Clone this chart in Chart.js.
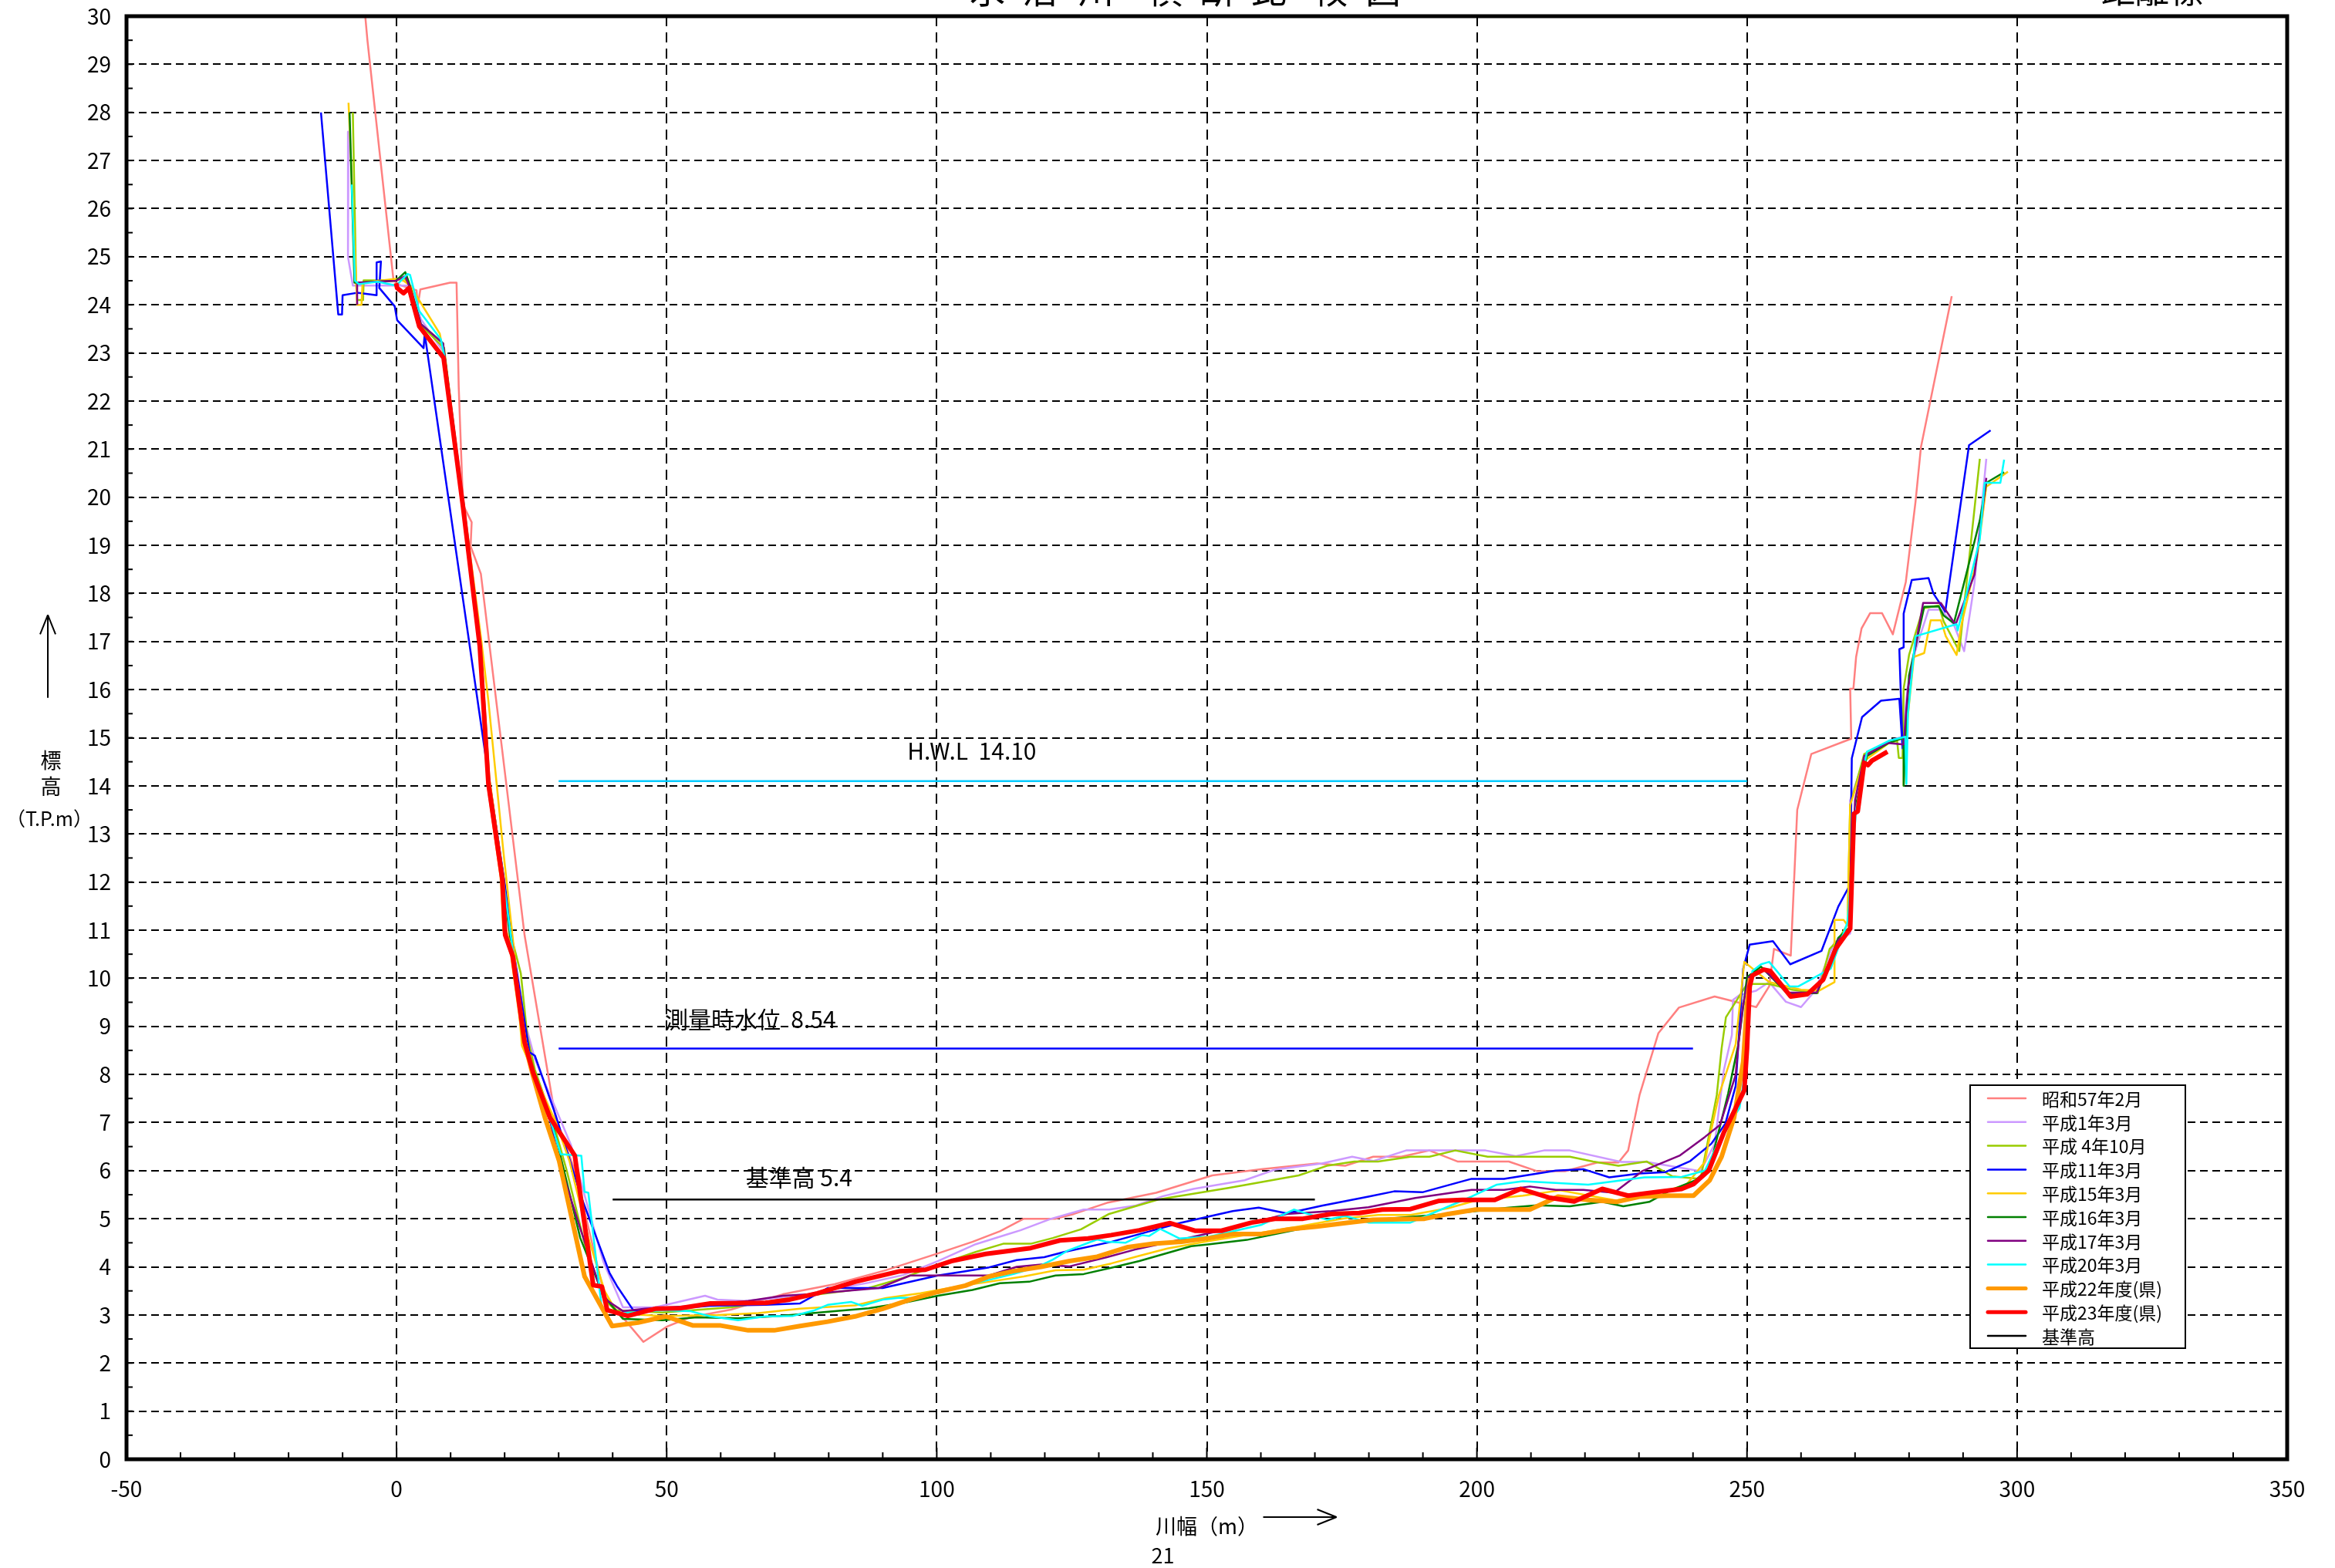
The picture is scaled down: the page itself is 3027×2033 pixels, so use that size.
<!DOCTYPE html>
<html lang="ja">
<head>
<meta charset="utf-8">
<title>横断比較図</title>
<script src="https://cdn.jsdelivr.net/npm/chart.js@4/dist/chart.umd.min.js"></script>
<style>
  html, body { margin: 0; padding: 0; background: #fff; }
  #wrap { width: 3027px; height: 2033px; }
</style>
</head>
<body>
<div id="wrap"><canvas id="myChart" width="3027" height="2033"></canvas></div>
<script>
// ---- survey lines, [川幅 m, 標高 T.P.m] ----
var s57_2 = [[-5.8,30.0],[-5.4,29.5],[-0.6,24.54],[0.1,24.43],[3.7,24.3],[3.9,23.97],[4.4,24.32],[9.9,24.46],[11.1,24.46],[11.5,22.3],[12.3,19.84],[13.9,19.48],[13.7,18.98],[15.6,18.41],[23.7,10.89],[29.4,7.1],[33.0,6.0],[38.5,3.4],[45.7,2.44],[50.1,2.76],[54.3,2.95],[61.9,3.11],[71.5,3.43],[81.1,3.64],[90.6,3.93],[100.2,4.28],[106.6,4.52],[111.7,4.74],[116.1,5.0],[121.9,5.0],[125.4,5.1],[131.5,5.33],[140.6,5.54],[151,5.9],[160,6.03],[170.4,6.15],[175.6,6.1],[180.8,6.29],[186,6.29],[191.2,6.42],[196.4,6.19],[205.9,6.19],[211.1,5.99],[216.3,5.99],[222.3,6.17],[226.2,6.17],[228,6.42],[230.1,7.57],[233.6,8.86],[237.4,9.39],[244,9.62],[251.7,9.4],[254.1,9.83],[255,10.61],[258.1,10.47],[259.3,13.5],[261.9,14.66],[269.3,14.98],[269.1,16.02],[269.7,16.02],[270.2,16.68],[271.2,17.27],[272.8,17.59],[275,17.59],[277,17.15],[279.4,18.24],[281.2,19.91],[282.2,21.04],[287.9,24.18]];

var h1_3 = [[-8.9,27.6],[-9.0,25.0],[-8.1,24.4],[-3.5,24.4],[2.7,24.4],[4.5,23.7],[8.8,23.0],[12.4,19.9],[15.5,17.0],[17.1,14.2],[19.8,12.1],[21.6,10.6],[23.9,9.03],[25.6,8.32],[32.3,6.53],[35.5,5.2],[38.3,4.1],[41.9,3.16],[47.9,3.16],[57.1,3.4],[59.4,3.32],[64.5,3.29],[74.7,3.4],[79.8,3.51],[87.4,3.67],[93.8,3.83],[100.2,4.12],[107.2,4.47],[112.9,4.67],[115.5,4.76],[121.2,5.0],[127.2,5.19],[131.9,5.19],[136.7,5.27],[141.9,5.47],[147.5,5.62],[157,5.8],[162.6,6.02],[171.3,6.15],[176.9,6.29],[180.8,6.2],[186.9,6.42],[201.6,6.42],[207.2,6.3],[212.4,6.42],[217.2,6.42],[226.7,6.18],[231.4,6.18],[241.4,5.99],[244,6.55],[245.7,8.08],[247.2,8.82],[247.4,9.55],[248.6,9.65],[251.7,9.74],[254.1,9.92],[257.2,9.51],[260,9.4],[262.6,9.74],[266.2,10.75],[269.1,10.93],[269.1,13.7],[271.7,14.57],[276.4,14.94],[278.8,15.02],[279.8,16.1],[280.9,16.72],[283.6,17.66],[285.9,17.66],[288.3,17.35],[290.2,16.8],[292.1,18.2],[294.3,20.8]];

var h4_10 = [[-8.1,28.0],[-7.5,24.5],[-7.3,24.1],[-6.2,24.1],[-6.1,24.51],[-0.1,24.51],[1.5,24.55],[2.5,24.4],[4.3,23.6],[8.8,23.1],[12.4,19.8],[15.6,16.9],[17.2,14.1],[19.8,12.1],[21.4,10.8],[23.0,10.1],[24.2,8.8],[25.6,8.1],[29.0,7.0],[31.5,6.0],[35.0,4.4],[38.6,3.3],[40.5,3.1],[49.2,3.05],[61.9,3.16],[74.0,3.37],[87.4,3.56],[93.8,3.77],[100.2,4.04],[107.2,4.31],[112.3,4.48],[117.4,4.48],[121.5,4.6],[126.7,4.78],[131.9,5.1],[141,5.4],[154,5.64],[167,5.9],[172.2,6.1],[177.3,6.19],[181.7,6.19],[187.7,6.29],[191.2,6.29],[196,6.42],[202,6.29],[217.2,6.29],[221.5,6.19],[226.2,6.1],[231.4,6.19],[236.2,5.88],[241.4,5.83],[244.4,7.57],[245.3,8.54],[246.1,9.19],[250,9.88],[254.1,9.88],[258.4,9.76],[263.1,9.69],[265.3,10.61],[266.9,10.8],[268.6,11.12],[269.1,13.6],[271.7,14.66],[276.4,14.9],[277.8,14.93],[278.1,14.58],[278.8,14.58],[279,16.02],[280,16.72],[282.6,17.69],[285.5,17.75],[286.4,17.42],[289.3,16.8],[293.1,20.8]];

var h11_3 = [[-14.0,28.0],[-10.8,23.8],[-10.1,23.8],[-10.0,24.2],[-7.3,24.25],[-3.7,24.2],[-3.7,24.88],[-2.9,24.9],[-3.2,24.35],[-0.35,23.97],[0.1,23.68],[5.0,23.1],[5.2,23.4],[16.3,14.76],[20.1,11.9],[21.8,10.46],[24.6,8.46],[25.6,8.39],[29.4,7.17],[34.2,5.45],[39.4,3.88],[40.8,3.6],[43.8,3.1],[47.9,3.1],[58.1,3.19],[68.3,3.21],[74.7,3.24],[79.8,3.56],[90,3.56],[100.2,3.82],[105.3,3.91],[109.7,3.99],[114.8,4.14],[119.9,4.2],[123.6,4.31],[132.3,4.52],[145.3,4.92],[154.8,5.16],[159.6,5.23],[164.8,5.11],[171.3,5.27],[179.9,5.46],[184.7,5.57],[189.9,5.55],[199,5.83],[205,5.83],[214.6,6.0],[219.7,6.03],[224.5,5.86],[230.1,5.94],[234.9,5.97],[239.5,6.2],[243.4,6.56],[246,6.98],[247.9,7.76],[249.3,10.2],[250.5,10.7],[254.8,10.77],[258,10.29],[263.8,10.57],[266.9,11.49],[269.1,11.95],[269.4,14.57],[271.3,15.43],[274.8,15.77],[278.2,15.81],[278.8,14.78],[278.2,16.84],[279,16.88],[279,17.58],[280.5,18.28],[283.6,18.32],[284.5,18.0],[286.7,17.62],[291.1,21.08],[295.1,21.39]];

var h15_3 = [[-8.9,28.2],[-7.3,24.0],[-6.5,24.0],[-6.3,24.46],[-0.1,24.54],[1.3,24.5],[2.5,24.4],[8.0,23.4],[8.7,22.96],[12.6,19.7],[15.6,17.1],[17.0,15.76],[19.8,12.6],[21.8,10.53],[23.2,8.6],[25.5,8.0],[29.5,7.0],[32,6.2],[35.5,4.6],[38.5,3.5],[40.9,3.03],[49.2,2.98],[59.4,3.0],[67.0,3.04],[74.7,3.13],[84.9,3.2],[90.6,3.35],[97,3.45],[105.3,3.62],[109.7,3.69],[116.1,3.8],[122,3.93],[127.2,3.94],[132.3,4.07],[137.5,4.23],[142.7,4.38],[149.6,4.52],[158.3,4.68],[167,4.84],[175.6,5.01],[181.7,5.08],[187.7,5.08],[194.7,5.22],[199.8,5.38],[208.5,5.48],[215.4,5.59],[225.8,5.38],[234.5,5.56],[238.8,5.71],[242.2,6.18],[243.1,6.7],[244.8,7.57],[247.9,8.63],[249.5,10.34],[254.1,9.92],[260,9.76],[263.3,9.74],[266.2,9.92],[266.2,11.21],[267.9,11.21],[268.6,11.1],[269.1,13.6],[271.7,14.52],[276.4,14.9],[279,15.0],[279,14.0],[279.3,14.93],[280.9,16.68],[282.8,16.76],[284,17.44],[285.9,17.44],[286.8,17.11],[288.8,16.72],[289.7,17.35],[292.6,18.74],[294.3,20.22],[298.3,20.53]];

var h16_3 = [[-8.7,28.0],[-7.8,24.46],[-0.1,24.5],[1.6,24.68],[2.3,24.46],[4.5,23.6],[8.6,23.2],[12.4,19.8],[15.5,16.9],[17.1,14.1],[19.7,12.0],[21.3,10.6],[23.8,8.7],[25.4,8.0],[28.8,7.0],[31,6.0],[34,4.6],[38.3,3.4],[41.9,2.92],[49.2,2.89],[55.6,2.95],[63.2,2.93],[70.9,2.98],[81.1,3.08],[87.4,3.14],[93.8,3.25],[100.2,3.4],[106.6,3.52],[111.7,3.66],[117.1,3.69],[122,3.82],[127.2,3.85],[132.3,3.98],[137.5,4.12],[147.1,4.43],[150.5,4.47],[157.4,4.56],[167,4.78],[174.8,4.9],[184.3,5.01],[194.7,5.1],[205.9,5.23],[211.1,5.28],[217.2,5.26],[223.2,5.35],[227.1,5.26],[231.9,5.35],[235.8,5.59],[240.5,5.8],[243.1,6.07],[246.5,7.6],[248.4,8.63],[250,10.02],[252.6,10.24],[257.4,9.69],[262.9,9.69],[264.5,10.1],[266.9,10.84],[269.1,11.07],[269.8,13.42],[272.2,14.62],[276.2,14.89],[279,15.0],[279,14.0],[279.3,14.9],[280,16.3],[282.8,17.72],[285.5,17.73],[286.4,17.54],[288.3,17.38],[293.1,19.52],[294.3,20.3],[297.6,20.52]];

var h17_3 = [[-7.3,24.0],[-7.3,24.46],[-0.1,24.5],[1.6,24.6],[2.3,24.4],[4.5,23.6],[8.6,23.2],[12.5,19.7],[15.5,16.9],[17.1,14.1],[19.7,12.0],[21.4,10.7],[23.8,8.7],[25.4,8.0],[28.5,7.0],[30.1,6.18],[34,4.8],[38.3,3.35],[41.9,3.08],[46.0,3.13],[55.6,3.19],[65.1,3.29],[71.5,3.4],[76.6,3.43],[81.1,3.48],[89.3,3.56],[95.1,3.82],[109.7,3.82],[114.8,4.0],[119.4,4.05],[124.6,4.01],[131.5,4.2],[136.7,4.36],[145.3,4.57],[154,4.79],[164.8,5.1],[173,5.16],[179.9,5.24],[188.6,5.43],[199,5.6],[205,5.6],[209.8,5.67],[214.6,5.6],[219.7,5.6],[225.4,5.54],[230.6,5.99],[237.5,6.31],[242.2,6.7],[245,6.95],[247.9,7.99],[248.4,8.63],[249.3,9.46],[250.3,10.02],[253,10.2],[257.5,9.7],[262.9,9.7],[264.5,10.1],[266.9,10.8],[269.1,10.98],[270,13.7],[271.7,14.62],[276,14.89],[279,14.86],[279.8,16.02],[282.6,17.8],[285.9,17.8],[288.6,17.35],[292.1,18.39],[293.1,19.25],[294.3,20.4]];

var h20_3 = [[-8.3,26.5],[-7.7,24.5],[-7.0,24.43],[-3.5,24.48],[-0.1,24.4],[2.0,24.64],[2.5,24.62],[4.2,23.87],[8.2,23.28],[8.9,22.9],[12.5,19.8],[15.6,16.9],[17.1,14.1],[19.8,12.0],[21.5,10.6],[23.9,8.7],[25.5,8.0],[28.6,7.0],[30.4,6.34],[34.2,6.31],[34.8,5.56],[35.5,5.54],[38.0,3.13],[41.2,3.03],[49.2,3.1],[54.3,3.08],[58.1,2.97],[63.2,2.89],[68.3,2.97],[73.4,2.98],[77.2,3.09],[79.8,3.21],[84.2,3.27],[86.2,3.19],[90,3.32],[93.2,3.36],[95.7,3.35],[100.2,3.5],[105.3,3.62],[109.7,3.73],[114.2,3.85],[118.7,4.0],[121.5,4.15],[124.1,4.33],[129.7,4.57],[131.5,4.52],[134.9,4.5],[138,4.66],[139.3,4.64],[141.4,4.79],[144.9,4.59],[150.5,4.63],[160,4.87],[166.1,5.19],[172.2,4.98],[175.6,5.06],[179.9,4.92],[187.7,4.92],[199,5.46],[203.7,5.71],[208.5,5.78],[220.6,5.71],[231,5.86],[237.9,5.87],[242.2,6.0],[245.6,6.79],[248.6,7.3],[249.3,7.8],[250,9.46],[251,10.15],[252.6,10.29],[254.1,10.34],[257.9,9.83],[259.5,9.83],[265.5,10.2],[268.6,11.16],[270.2,13.51],[272.2,14.71],[276.4,14.94],[279.3,15.02],[279.5,14.04],[279.8,15.5],[281.2,17.11],[288.8,17.36],[289,17.23],[293.1,19.13],[294,20.3],[296.9,20.3],[297.6,20.78]];

var h22 = [[17.0,14.1],[19.5,12.1],[20.0,11.0],[21.4,10.5],[23.6,8.7],[25.2,8.0],[27.5,7.09],[30.1,6.2],[34.8,3.8],[39.9,2.77],[44.7,2.84],[49.8,2.97],[54.9,2.78],[60,2.78],[65.1,2.68],[69.9,2.68],[74.7,2.77],[79.8,2.86],[84.9,2.97],[90,3.13],[95.1,3.32],[100.2,3.48],[105.3,3.61],[109.7,3.8],[114.2,3.91],[119.3,4.0],[124.6,4.12],[129.7,4.21],[135.4,4.41],[140.1,4.48],[145.3,4.52],[150.5,4.6],[154.8,4.68],[160,4.68],[165.2,4.78],[170.4,4.84],[175.6,4.91],[180.8,4.98],[186,4.99],[190.3,5.0],[194.7,5.1],[199.8,5.19],[209.8,5.19],[215,5.46],[220.6,5.39],[225.8,5.35],[230.1,5.46],[235.3,5.48],[240.1,5.48],[243.1,5.8],[245.3,6.29],[247.6,7.1],[249.3,8.26],[250,9.46],[250.6,10.0]];

var h23 = [[-0.1,24.45],[0.1,24.35],[1.3,24.24],[2.3,24.35],[4.2,23.55],[8.7,22.9],[9.4,22.3],[12.3,19.8],[15.4,16.9],[17.0,14.04],[19.6,12.04],[20.1,10.9],[21.5,10.46],[23.7,8.67],[25.3,8.03],[28.4,7.1],[33.0,6.31],[36.4,3.62],[38.0,3.59],[39.0,3.1],[42.8,2.98],[47.9,3.13],[52.4,3.14],[58.1,3.24],[68.3,3.25],[72.8,3.32],[77.9,3.45],[84.9,3.69],[93.2,3.91],[97.9,3.94],[102.7,4.12],[109.1,4.27],[117.4,4.39],[122.8,4.55],[128,4.59],[132.3,4.66],[137.5,4.76],[143.2,4.91],[147.9,4.75],[152.7,4.75],[158.3,4.92],[162.6,5.0],[167.8,5.0],[173,5.1],[178.2,5.12],[182.5,5.19],[187.7,5.2],[192.9,5.37],[197.3,5.39],[203.3,5.39],[208.1,5.62],[213.3,5.44],[218,5.36],[223.2,5.62],[228,5.48],[232.7,5.55],[237.9,5.62],[240.1,5.72],[242.9,6.0],[245.7,6.79],[249.5,7.67],[250,8.54],[250.5,9.83],[251,10.06],[253.1,10.18],[254.3,10.15],[258.1,9.62],[261.2,9.67],[264.1,9.97],[266.4,10.61],[269.1,11.03],[269.8,13.42],[270.5,13.47],[271.7,14.48],[272.4,14.43],[273.1,14.52],[276,14.71]];

// reference levels
var hwlLine = [[30,14.10],[250,14.10]];
var surveyLine = [[30,8.54],[240,8.54]];
var kijunLine = [[40,5.4],[170,5.4]];

var seriesLabels = ['昭和57年2月','平成1年3月','平成 4年10月','平成11年3月','平成15年3月','平成16年3月','平成17年3月','平成20年3月','平成22年度(県)','平成23年度(県)'];
var kijunLabel = '基準高';

// ticks
var xMin = -50, xMax = 350, xStep = 50;
var yMin = 0, yMax = 30, yStep = 1;

// ----------------------------------------------------------------------------------
function toXY(arr) { return arr.map(function (p) { return { x: p[0], y: p[1] }; }); }

var FONT = "'Noto Sans CJK JP', 'Noto Sans', sans-serif";
Chart.defaults.font.family = FONT;
Chart.defaults.color = '#000';

function line(ds, label, color, width, order) {
  return {
    label: label, data: toXY(ds), borderColor: color, backgroundColor: color,
    borderWidth: width, showLine: true, pointRadius: 0, pointHoverRadius: 0,
    fill: false, tension: 0, order: order, borderJoinStyle: 'round'
  };
}

var datasets = [
  line(s57_2, seriesLabels[0], '#FF8080', 2.5, 10),
  line(h1_3,  seriesLabels[1], '#CC99FF', 2.5, 9),
  line(h4_10, seriesLabels[2], '#99CC00', 2.5, 8),
  line(h11_3, seriesLabels[3], '#0000FF', 2.5, 7),
  line(h15_3, seriesLabels[4], '#FFCC00', 2.5, 6),
  line(h16_3, seriesLabels[5], '#008000', 2.5, 5),
  line(h17_3, seriesLabels[6], '#800080', 2.5, 4),
  line(h20_3, seriesLabels[7], '#00FFFF', 2.5, 3),
  line(h22,   seriesLabels[8], '#FF9900', 6, 2),
  line(h23,   seriesLabels[9], '#FF0000', 6, 1),
  line(kijunLine, kijunLabel, '#000000', 2.5, 0),
  line(hwlLine, 'H.W.L', '#00CCFF', 2.5, 0),
  line(surveyLine, '測量時水位', '#0000FF', 2.5, 0)
];

function stroke(ctx, x1, y1, x2, y2) {
  ctx.beginPath(); ctx.moveTo(x1, y1); ctx.lineTo(x2, y2); ctx.stroke();
}

var decor = {
  id: 'decor',
  afterDraw: function (chart) {
    var ctx = chart.ctx, a = chart.chartArea, xs = chart.scales.x, ys = chart.scales.y;
    ctx.save();
    ctx.strokeStyle = '#000'; ctx.fillStyle = '#000';

    // inward ticks
    ctx.lineWidth = 2;
    for (var v = yMin; v <= yMax; v += 0.5) {
      var py = ys.getPixelForValue(v);
      stroke(ctx, a.left, py, a.left + 8, py);
    }
    for (var u = xMin; u <= xMax; u += 10) {
      var px = xs.getPixelForValue(u);
      stroke(ctx, px, a.bottom, px, a.bottom - (u % 50 === 0 ? 15 : 9));
    }

    // frame
    ctx.lineWidth = 5;
    ctx.strokeRect(a.left, a.top, a.right - a.left, a.bottom - a.top);

    // level labels
    ctx.font = '30px ' + FONT;
    ctx.textAlign = 'center'; ctx.textBaseline = 'middle';
    ctx.fillText('H.W.L  14.10', xs.getPixelForValue(106.5), ys.getPixelForValue(14.73));
    ctx.fillText('測量時水位  8.54', xs.getPixelForValue(65.5), ys.getPixelForValue(9.14));
    ctx.fillText('基準高 5.4', xs.getPixelForValue(74.5), ys.getPixelForValue(5.86));

    // axis titles
    ctx.font = '27px ' + FONT;
    var cx = xs.getPixelForValue(150);
    ctx.fillText('川幅（m）', cx, a.bottom + 87);
    ctx.lineWidth = 2;
    var ay = a.bottom + 75;
    stroke(ctx, cx + 73, ay, cx + 168, ay);
    stroke(ctx, cx + 143, ay - 10, cx + 168, ay);
    stroke(ctx, cx + 143, ay + 10, cx + 168, ay);
    ctx.fillText('21', cx - 57, a.bottom + 125);

    var yx = 66;
    ctx.fillText('標', yx, ys.getPixelForValue(14.53));
    ctx.fillText('高', yx, ys.getPixelForValue(13.99));
    ctx.font = '25px ' + FONT;
    ctx.fillText('（T.P.m）', yx - 2, ys.getPixelForValue(13.32));
    stroke(ctx, 62, ys.getPixelForValue(15.83), 62, ys.getPixelForValue(17.55));
    stroke(ctx, 52, ys.getPixelForValue(17.15), 62, ys.getPixelForValue(17.55));
    stroke(ctx, 72, ys.getPixelForValue(17.15), 62, ys.getPixelForValue(17.55));

    // title (runs off the top edge)
    ctx.font = '46px ' + FONT;
    ctx.textBaseline = 'alphabetic';
    var tchars = ['水', '沼', '川', '横', '断', '比', '較', '図'];
    var tpos = [1280, 1348, 1421, 1510, 1578, 1645, 1724, 1793];
    for (var i = 0; i < tchars.length; i++) ctx.fillText(tchars[i], tpos[i], 4);
    ctx.font = '44px ' + FONT;
    ['距', '離', '標'].forEach(function (c, k) { ctx.fillText(c, 2746 + k * 44, 4); });

    // legend box
    var lx = a.right - 411, ly = a.bottom - 485, lw = 279, lh = 341;
    ctx.fillStyle = '#fff';
    ctx.fillRect(lx, ly, lw, lh);
    ctx.lineWidth = 2; ctx.strokeStyle = '#000';
    ctx.strokeRect(lx, ly, lw, lh);
    ctx.font = '23px ' + FONT;
    ctx.textAlign = 'left'; ctx.textBaseline = 'middle';
    var items = datasets.slice(0, 11);
    items.forEach(function (d, k) {
      var ry = ly + 17 + k * 30.8;
      ctx.strokeStyle = d.borderColor;
      ctx.lineWidth = d.borderWidth > 3 ? 5 : 2.5;
      ctx.lineCap = 'round';
      stroke(ctx, lx + 23, ry, lx + 72, ry);
      ctx.fillStyle = '#000';
      ctx.fillText(d.label, lx + 93, ry + 1);
    });
    ctx.restore();
  }
};

var ctx = document.getElementById('myChart').getContext('2d');
var myChart = new Chart(ctx, {
  type: 'scatter',
  data: { datasets: datasets },
  options: {
    responsive: false,
    animation: false,
    devicePixelRatio: 1,
    layout: { padding: { left: 0, right: 62, top: 21, bottom: 61 } },
    plugins: { legend: { display: false }, tooltip: { enabled: false } },
    scales: {
      x: {
        type: 'linear', min: xMin, max: xMax,
        ticks: { stepSize: xStep, padding: 22, font: { size: 28 }, color: '#000' },
        grid: { color: '#000', lineWidth: 2, drawTicks: false },
        border: { display: false, dash: [13, 8] },
        afterFit: function (s) { s.height = 80; s.paddingLeft = 0; s.paddingRight = 0; }
      },
      y: {
        type: 'linear', min: yMin, max: yMax,
        ticks: { stepSize: yStep, padding: 20, font: { size: 28 }, color: '#000', autoSkip: false },
        grid: { color: '#000', lineWidth: 2, drawTicks: false },
        border: { display: false, dash: [10, 6] },
        afterFit: function (s) { s.width = 164; s.paddingTop = 0; s.paddingBottom = 0; }
      }
    }
  },
  plugins: [decor]
});
</script>
</body>
</html>
